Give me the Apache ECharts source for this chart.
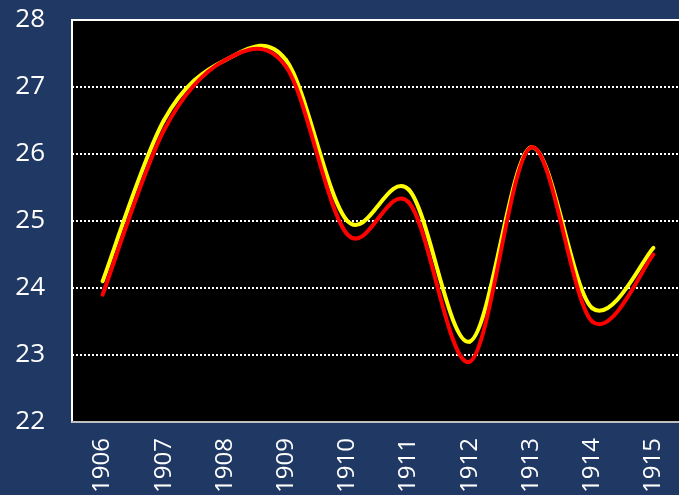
<!DOCTYPE html>
<html>
<head>
<meta charset="utf-8">
<script src="https://cdn.jsdelivr.net/npm/echarts@6/dist/echarts.min.js"></script>
<style>
html,body{margin:0;padding:0;background:#203864;}
#c{width:679px;height:495px;}
</style>
</head>
<body>
<div id="c"></div>
<script>
var years = ['1906','1907','1908','1909','1910','1911','1912','1913','1914','1915'];
var yellowSeries = [24.1, 26.5, 27.4, 27.4, 25.0, 25.47, 23.2, 26.1, 23.7, 24.6];
var redSeries = [23.9, 26.35, 27.4, 27.3, 24.8, 25.28, 22.9, 26.1, 23.5, 24.5];
var yTicks = {min: 22, max: 28, interval: 1};

// Smooth line (cardinal/Catmull-Rom bezier through the data points), drawn via axis coords
function smoothLine(values, color, z) {
  return {
    type: 'custom',
    data: values.map(function (v, i) { return [i, v]; }),
    encode: {x: 0, y: 1},
    clip: true,
    z: z,
    renderItem: function (params, api) {
      var i = params.dataIndex;
      if (i >= values.length - 1) return null;
      var p1 = api.coord([i, values[i]]);
      var p2 = api.coord([i + 1, values[i + 1]]);
      var p0 = i > 0 ? api.coord([i - 1, values[i - 1]]) : p1;
      var p3 = i + 2 < values.length ? api.coord([i + 2, values[i + 2]]) : p2;
      return {
        type: 'bezierCurve',
        shape: {
          x1: p1[0], y1: p1[1], x2: p2[0], y2: p2[1],
          cpx1: p1[0] + (p2[0] - p0[0]) / 6, cpy1: p1[1] + (p2[1] - p0[1]) / 6,
          cpx2: p2[0] - (p3[0] - p1[0]) / 6, cpy2: p2[1] - (p3[1] - p1[1]) / 6
        },
        style: {fill: 'none', stroke: color, lineWidth: 4, lineCap: 'round'}
      };
    }
  };
}

var chart = echarts.init(document.getElementById('c'));
chart.setOption({
  backgroundColor: '#203864',
  animation: false,
  grid: {
    left: 72, top: 20, width: 612, bottom: 73,
    outerBoundsMode: 'none',
    containLabel: false,
    show: true, backgroundColor: '#000000',
    borderColor: '#ffffff', borderWidth: 2
  },
  xAxis: {
    type: 'category',
    data: years,
    boundaryGap: true,
    axisLine: {lineStyle: {color: '#bfbfbf', width: 2}},
    axisTick: {show: false},
    axisLabel: {
      rotate: 90, color: '#ffffff', fontSize: 24,
      fontFamily: 'Open Sans', margin: 16
    },
    splitLine: {show: false}
  },
  yAxis: {
    type: 'value',
    min: yTicks.min, max: yTicks.max, interval: yTicks.interval,
    axisLine: {show: true, lineStyle: {color: '#ffffff', width: 2}},
    axisTick: {show: false},
    axisLabel: {color: '#ffffff', fontSize: 26, fontFamily: 'Open Sans', margin: 27},
    splitLine: {show: true, lineStyle: {color: '#ffffff', width: 2, type: [2, 2]}}
  },
  series: [
    smoothLine(yellowSeries, '#ffff00', 3),
    smoothLine(redSeries, '#ff0000', 4)
  ]
});
</script>
</body>
</html>
